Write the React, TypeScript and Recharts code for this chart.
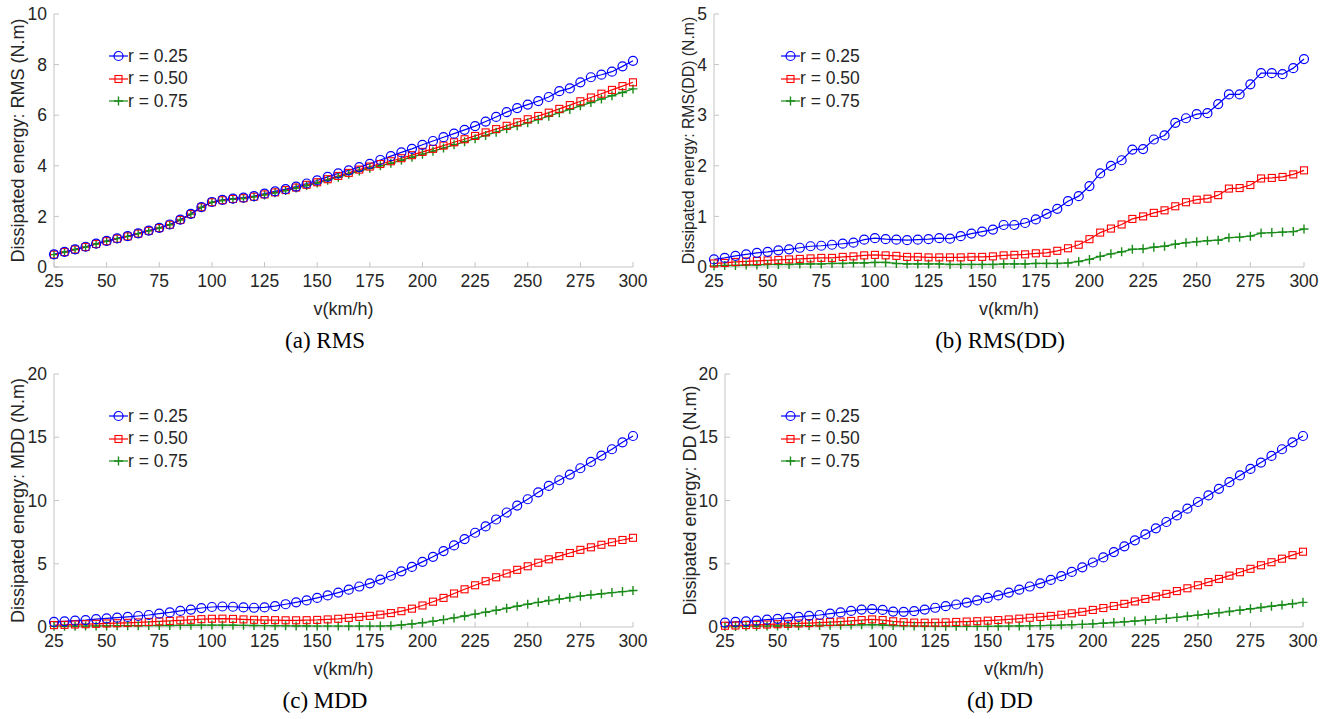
import { CSSProperties } from 'react';
import { Line, LineChart, XAxis, YAxis } from 'recharts';

// speed in km/h
const speeds = [
    25, 30, 35, 40, 45, 50, 55, 60, 65, 70,
    75, 80, 85, 90, 95, 100, 105, 110, 115, 120,
    125, 130, 135, 140, 145, 150, 155, 160, 165, 170,
    175, 180, 185, 190, 195, 200, 205, 210, 215, 220,
    225, 230, 235, 240, 245, 250, 255, 260, 265, 270,
    275, 280, 285, 290, 295, 300,
];

// (a) RMS
const rmsR25 = [
    0.5, 0.6, 0.7, 0.8, 0.92, 1.03, 1.13, 1.22, 1.33, 1.44,
    1.55, 1.68, 1.87, 2.1, 2.37, 2.57, 2.65, 2.7, 2.74, 2.8,
    2.9, 2.99, 3.08, 3.18, 3.3, 3.42, 3.56, 3.7, 3.82, 3.95,
    4.08, 4.23, 4.38, 4.53, 4.67, 4.83, 4.98, 5.13, 5.27, 5.42,
    5.57, 5.75, 5.93, 6.12, 6.28, 6.42, 6.56, 6.72, 6.95, 7.06,
    7.3, 7.5, 7.6, 7.72, 7.93, 8.15,
];
const rmsR50 = [
    0.49, 0.59, 0.69, 0.79, 0.91, 1.02, 1.12, 1.21, 1.32, 1.43,
    1.54, 1.67, 1.86, 2.09, 2.36, 2.56, 2.64, 2.69, 2.72, 2.78,
    2.87, 2.95, 3.04, 3.14, 3.25, 3.35, 3.47, 3.6, 3.72, 3.85,
    3.97, 4.07, 4.18, 4.3, 4.42, 4.55, 4.67, 4.8, 4.93, 5.05,
    5.18, 5.32, 5.45, 5.58, 5.72, 5.84, 5.97, 6.1, 6.25, 6.4,
    6.55, 6.7, 6.85, 7.0, 7.15, 7.3,
];
const rmsR75 = [
    0.49, 0.59, 0.69, 0.79, 0.91, 1.02, 1.12, 1.21, 1.32, 1.43,
    1.54, 1.67, 1.86, 2.09, 2.36, 2.56, 2.63, 2.68, 2.71, 2.77,
    2.85, 2.93, 3.02, 3.12, 3.22, 3.32, 3.43, 3.55, 3.67, 3.79,
    3.9, 4.0, 4.1, 4.22, 4.34, 4.46, 4.58, 4.7, 4.83, 4.95,
    5.07, 5.2, 5.33, 5.46, 5.58, 5.7, 5.83, 5.96, 6.1, 6.23,
    6.37, 6.5, 6.64, 6.77, 6.9, 7.04,
];

// (b) RMS(DD)
const rmsDdR25 = [
    0.15, 0.18, 0.22, 0.25, 0.28, 0.3, 0.33, 0.35, 0.38, 0.41,
    0.42, 0.44, 0.46, 0.48, 0.54, 0.57, 0.55, 0.54, 0.53, 0.54,
    0.55, 0.57, 0.56, 0.61, 0.66, 0.7, 0.74, 0.83, 0.83, 0.87,
    0.94, 1.05, 1.15, 1.3, 1.4, 1.6, 1.85, 2.0, 2.11, 2.32,
    2.33, 2.52, 2.6, 2.85, 2.94, 3.02, 3.04, 3.22, 3.41, 3.41,
    3.61, 3.83, 3.83, 3.81, 3.93, 4.11,
];
const rmsDdR50 = [
    0.07, 0.08, 0.1, 0.11, 0.12, 0.13, 0.14, 0.15, 0.16, 0.17,
    0.18, 0.18, 0.2, 0.21, 0.23, 0.24, 0.23, 0.22, 0.2, 0.2,
    0.19, 0.19, 0.19, 0.19, 0.2, 0.2, 0.21, 0.23, 0.24, 0.25,
    0.27, 0.28, 0.32, 0.37, 0.44, 0.55, 0.68, 0.76, 0.84, 0.95,
    1.0, 1.07, 1.12, 1.2, 1.28, 1.33, 1.35, 1.42, 1.55, 1.56,
    1.62, 1.75, 1.76, 1.78, 1.83, 1.91,
];
const rmsDdR75 = [
    0.02, 0.03, 0.03, 0.04, 0.04, 0.05, 0.05, 0.05, 0.06, 0.06,
    0.06, 0.07, 0.07, 0.08, 0.08, 0.09, 0.09, 0.07, 0.06, 0.06,
    0.06, 0.06, 0.05, 0.05, 0.05, 0.05, 0.05, 0.06, 0.06, 0.06,
    0.07, 0.07, 0.07, 0.08, 0.11, 0.15, 0.21, 0.26, 0.3, 0.35,
    0.36, 0.39, 0.41, 0.45, 0.48, 0.5, 0.52, 0.53, 0.58, 0.59,
    0.61, 0.67, 0.68, 0.69, 0.7, 0.75,
];

// (c) MDD
const mddR25 = [
    0.4, 0.45, 0.5, 0.55, 0.62, 0.68, 0.74, 0.8, 0.87, 0.95,
    1.05, 1.15, 1.27, 1.38, 1.5, 1.58, 1.62, 1.6, 1.55, 1.52,
    1.55, 1.65, 1.8, 1.95, 2.1, 2.3, 2.5, 2.72, 2.95, 3.2,
    3.45, 3.75, 4.05, 4.4, 4.75, 5.15, 5.55, 6.0, 6.45, 6.95,
    7.45, 7.95, 8.5, 9.05, 9.6, 10.1, 10.65, 11.15, 11.6, 12.05,
    12.55, 13.05, 13.55, 14.05, 14.6, 15.1,
];
const mddR50 = [
    0.15, 0.17, 0.2, 0.22, 0.25, 0.28, 0.3, 0.33, 0.36, 0.4,
    0.44, 0.48, 0.52, 0.57, 0.62, 0.65, 0.66, 0.64, 0.6, 0.57,
    0.55, 0.54, 0.53, 0.53, 0.54, 0.56, 0.6, 0.65, 0.72, 0.8,
    0.88, 0.98, 1.1, 1.25, 1.45, 1.7, 2.0, 2.3, 2.65, 2.98,
    3.3, 3.62, 3.93, 4.23, 4.52, 4.8, 5.08, 5.35, 5.6, 5.85,
    6.1, 6.3, 6.5, 6.7, 6.88, 7.05,
];
const mddR75 = [
    0.05, 0.06, 0.06, 0.07, 0.08, 0.08, 0.09, 0.1, 0.1, 0.11,
    0.12, 0.12, 0.13, 0.14, 0.15, 0.15, 0.15, 0.14, 0.13, 0.12,
    0.11, 0.1, 0.09, 0.08, 0.08, 0.07, 0.07, 0.07, 0.07, 0.07,
    0.07, 0.07, 0.1, 0.16, 0.24, 0.34, 0.45, 0.58, 0.72, 0.87,
    1.02, 1.17, 1.32, 1.48, 1.64, 1.8, 1.95, 2.09, 2.21, 2.33,
    2.44, 2.54, 2.63, 2.72, 2.8, 2.88,
];

// (d) DD
const ddR25 = [
    0.35, 0.4, 0.45, 0.5, 0.58, 0.65, 0.72, 0.8, 0.88, 0.95,
    1.05, 1.15, 1.27, 1.38, 1.42, 1.35, 1.22, 1.2, 1.25, 1.38,
    1.52, 1.65, 1.78, 1.93, 2.1, 2.3, 2.5, 2.72, 2.95, 3.2,
    3.45, 3.72, 4.02, 4.35, 4.72, 5.1, 5.5, 5.92, 6.38, 6.85,
    7.32, 7.8, 8.3, 8.82, 9.35, 9.88, 10.4, 10.92, 11.45, 11.98,
    12.5, 13.0, 13.52, 14.05, 14.6, 15.1,
];
const ddR50 = [
    0.1, 0.12, 0.15, 0.17, 0.2, 0.22, 0.25, 0.28, 0.31, 0.35,
    0.39, 0.43, 0.48, 0.55, 0.6, 0.55, 0.45, 0.38, 0.35, 0.34,
    0.35, 0.37, 0.4, 0.43, 0.46, 0.5, 0.55, 0.6, 0.66, 0.73,
    0.8, 0.88, 0.97, 1.08, 1.2, 1.35, 1.5, 1.66, 1.83, 2.02,
    2.22, 2.42, 2.62, 2.84, 3.06, 3.3, 3.55, 3.8, 4.06, 4.33,
    4.6, 4.88, 5.12, 5.4, 5.68, 5.95,
];
const ddR75 = [
    0.03, 0.04, 0.05, 0.06, 0.07, 0.08, 0.09, 0.1, 0.11, 0.12,
    0.13, 0.14, 0.15, 0.17, 0.18, 0.16, 0.12, 0.09, 0.07, 0.06,
    0.05, 0.05, 0.05, 0.05, 0.05, 0.05, 0.06, 0.07, 0.08, 0.09,
    0.11, 0.13, 0.15, 0.18, 0.21, 0.25, 0.3, 0.35, 0.41, 0.47,
    0.53, 0.6, 0.68, 0.76, 0.85, 0.94, 1.03, 1.13, 1.23, 1.33,
    1.44, 1.54, 1.64, 1.74, 1.84, 1.95,
];

const xTicks = [25, 50, 75, 100, 125, 150, 175, 200, 225, 250, 275, 300];
const legendLabels = ['r = 0.25', 'r = 0.50', 'r = 0.75'];

const BLUE = '#0000ff';
const RED = '#ff0000';
const GREEN = '#1a8c1a';
const AXIS = '#c4c4c4';
const TEXT = '#262626';
const SANS = '"Liberation Sans", Arial, sans-serif';

const buildRows = (a: number[], b: number[], c: number[]) =>
    speeds.map((v, i) => ({ v, r25: a[i], r50: b[i], r75: c[i] }));

const CircleDot = (props: any) => {
    const { cx, cy, index } = props;
    if (cx == null || cy == null) return <g key={`c-${index}`} />;
    return <circle key={`c-${index}`} cx={cx} cy={cy} r={4.5} fill="none" stroke={BLUE} strokeWidth={1.2} />;
};

const SquareDot = (props: any) => {
    const { cx, cy, index } = props;
    if (cx == null || cy == null) return <g key={`s-${index}`} />;
    return <rect key={`s-${index}`} x={cx - 3.5} y={cy - 3.5} width={7} height={7} fill="none" stroke={RED} strokeWidth={1.1} />;
};

const PlusDot = (props: any) => {
    const { cx, cy, index } = props;
    if (cx == null || cy == null) return <g key={`p-${index}`} />;
    return <path key={`p-${index}`} d={`M${cx - 4.5},${cy}H${cx + 4.5}M${cx},${cy - 4.5}V${cy + 4.5}`} stroke={GREEN} strokeWidth={1.4} />;
};

const LegendIcon = ({ kind }: { kind: number }) => (
    <svg width={19} height={12}>
        <line x1={0} y1={6} x2={19} y2={6} stroke={[BLUE, RED, GREEN][kind]} strokeWidth={1.2} />
        {kind === 0 && <circle cx={9.5} cy={6} r={4.5} fill="none" stroke={BLUE} strokeWidth={1.2} />}
        {kind === 1 && <rect x={6} y={2.5} width={7} height={7} fill="none" stroke={RED} strokeWidth={1.1} />}
        {kind === 2 && <path d="M5,6H14M9.5,1.5V10.5" stroke={GREEN} strokeWidth={1.4} />}
    </svg>
);

interface PanelProps {
    left: number;
    top: number;
    width: number;
    rightMargin: number;
    yAxisWidth: number;
    rows: { [key: string]: number }[];
    yMax: number;
    yTicks: number[];
    yLabel: string;
    yLabelSize: number;
    yLabelOffset: number;
    caption: string;
    captionX: number;
    legendX: number;
}

const Panel = ({
    left,
    top,
    width,
    rightMargin,
    yAxisWidth,
    rows,
    yMax,
    yTicks,
    yLabel,
    yLabelSize,
    yLabelOffset,
    caption,
    captionX,
    legendX,
}: PanelProps) => {
    const tickStyle = { fill: TEXT, fontSize: 17.5, fontFamily: SANS };
    const captionStyle: CSSProperties = {
        position: 'absolute',
        left: captionX - 120,
        width: 240,
        top: 327,
        lineHeight: '28px',
        textAlign: 'center',
        fontFamily: '"Liberation Serif", "Times New Roman", serif',
        fontSize: 23,
        color: '#000',
    };

    return (
        <div style={{ position: 'absolute', left, top, width, height: 360 }}>
            <LineChart width={width} height={320} data={rows} margin={{ top: 14, right: rightMargin, left: 0, bottom: 0 }}>
                <XAxis
                    xAxisId="main"
                    dataKey="v"
                    type="number"
                    domain={[25, 300]}
                    ticks={xTicks}
                    height={53}
                    stroke={AXIS}
                    tickSize={-5}
                    tickMargin={13}
                    tick={tickStyle}
                    label={{ value: 'v(km/h)', position: 'insideBottom', offset: 5, fill: TEXT, fontSize: 18, fontFamily: SANS }}
                />
                <XAxis
                    xAxisId="top"
                    dataKey="v"
                    type="number"
                    domain={[25, 300]}
                    ticks={xTicks}
                    orientation="top"
                    height={0}
                    stroke={AXIS}
                    tickSize={-5}
                    tick={false}
                />
                <YAxis
                    yAxisId="main"
                    type="number"
                    domain={[0, yMax]}
                    ticks={yTicks}
                    width={yAxisWidth}
                    stroke={AXIS}
                    tickSize={-5}
                    tickMargin={12}
                    tick={tickStyle}
                    label={{
                        value: yLabel,
                        angle: -90,
                        position: 'insideLeft',
                        offset: yLabelOffset,
                        style: { textAnchor: 'middle', fill: TEXT, fontSize: yLabelSize, fontFamily: SANS },
                    }}
                />
                <YAxis
                    yAxisId="right"
                    type="number"
                    domain={[0, yMax]}
                    ticks={yTicks}
                    orientation="right"
                    width={0}
                    stroke={AXIS}
                    tickSize={-5}
                    tick={false}
                />
                <Line
                    xAxisId="main"
                    yAxisId="main"
                    type="linear"
                    dataKey="r75"
                    stroke={GREEN}
                    strokeWidth={1.3}
                    dot={PlusDot}
                    isAnimationActive={false}
                />
                <Line
                    xAxisId="main"
                    yAxisId="main"
                    type="linear"
                    dataKey="r50"
                    stroke={RED}
                    strokeWidth={1.2}
                    dot={SquareDot}
                    isAnimationActive={false}
                />
                <Line
                    xAxisId="main"
                    yAxisId="main"
                    type="linear"
                    dataKey="r25"
                    stroke={BLUE}
                    strokeWidth={1.2}
                    dot={CircleDot}
                    isAnimationActive={false}
                />
            </LineChart>
            <div style={{ position: 'absolute', left: legendX, top: 45, fontFamily: SANS, fontSize: 17.5, color: TEXT }}>
                {legendLabels.map((label, i) => (
                    <div key={label} style={{ display: 'flex', alignItems: 'center', height: 22.5 }}>
                        <LegendIcon kind={i} />
                        <span>{label}</span>
                    </div>
                ))}
            </div>
            <div style={captionStyle}>{caption}</div>
        </div>
    );
};

const App = () => (
    <div style={{ position: 'absolute', left: 0, top: 0, width: 1333, height: 719, background: '#fff' }}>
        <Panel
            left={0}
            top={0}
            width={660}
            rightMargin={27}
            yAxisWidth={54}
            rows={buildRows(rmsR25, rmsR50, rmsR75)}
            yMax={10}
            yTicks={[0, 2, 4, 6, 8, 10]}
            yLabel="Dissipated energy: RMS (N.m)"
            yLabelSize={18}
            yLabelOffset={18}
            caption="(a) RMS"
            captionX={325}
            legendX={109}
        />
        <Panel
            left={660}
            top={0}
            width={670}
            rightMargin={26}
            yAxisWidth={54}
            rows={buildRows(rmsDdR25, rmsDdR50, rmsDdR75)}
            yMax={5}
            yTicks={[0, 1, 2, 3, 4, 5]}
            yLabel="Dissipated energy: RMS(DD) (N.m)"
            yLabelSize={15.8}
            yLabelOffset={28}
            caption="(b) RMS(DD)"
            captionX={340}
            legendX={121}
        />
        <Panel
            left={0}
            top={360}
            width={660}
            rightMargin={27}
            yAxisWidth={54}
            rows={buildRows(mddR25, mddR50, mddR75)}
            yMax={20}
            yTicks={[0, 5, 10, 15, 20]}
            yLabel="Dissipated energy: MDD (N.m)"
            yLabelSize={18}
            yLabelOffset={18}
            caption="(c) MDD"
            captionX={325}
            legendX={109}
        />
        <Panel
            left={660}
            top={360}
            width={670}
            rightMargin={27}
            yAxisWidth={65}
            rows={buildRows(ddR25, ddR50, ddR75)}
            yMax={20}
            yTicks={[0, 5, 10, 15, 20]}
            yLabel="Dissipated energy: DD (N.m)"
            yLabelSize={18}
            yLabelOffset={30}
            caption="(d) DD"
            captionX={340}
            legendX={121}
        />
    </div>
);

export default App;
